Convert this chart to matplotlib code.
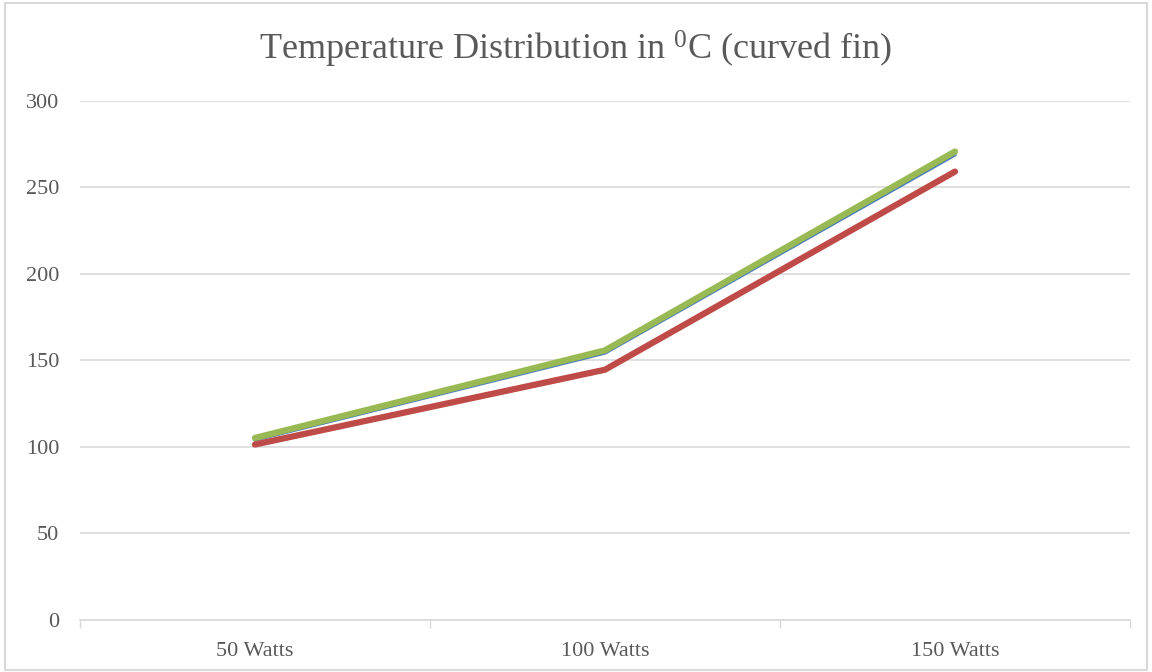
import numpy as np
import matplotlib.pyplot as plt
from matplotlib.patches import Rectangle

categories = ['50 Watts', '100 Watts', '150 Watts']
blue_vals = [104.0, 154.3, 268.8]
red_vals = [101.4, 144.6, 259.1]
green_vals = [105.2, 155.8, 270.7]
yticks = [0, 50, 100, 150, 200, 250, 300]

txt = '#595959'
grid = '#d9d9d9'
plt.rcParams['font.family'] = ['Liberation Serif', 'DejaVu Serif']
plt.rcParams['mathtext.fontset'] = 'custom'
plt.rcParams['mathtext.rm'] = 'Liberation Serif'
plt.rcParams['mathtext.it'] = 'Liberation Serif:italic'

fig = plt.figure(figsize=(11.52, 6.72), dpi=100)
ax = fig.add_axes([0.0694, 0.0774, 0.9115, 0.7726])
x = np.arange(len(categories))

ax.plot(x, blue_vals, color='#4a7ebb', linewidth=2.5, solid_capstyle='round', zorder=3)
ax.plot(x, red_vals, color='#be4b48', linewidth=4.5, solid_capstyle='round', zorder=4)
ax.plot(x, green_vals, color='#98b954', linewidth=4.5, solid_capstyle='round', zorder=5)

ax.set_xlim(-0.5, 2.5)
ax.set_ylim(0, 300)
ax.set_yticks(yticks)
ax.set_xticks(x)
ax.set_xticklabels(categories)
ax.set_xticks([-0.5, 0.5, 1.5, 2.5], minor=True)
ax.tick_params(axis='x', which='major', length=0, pad=16, labelsize=16, labelcolor=txt)
ax.tick_params(axis='x', which='minor', length=6, color=grid, width=1)
ax.tick_params(axis='y', length=0, pad=15, labelsize=16, labelcolor=txt)
ax.grid(axis='y', color=grid, linewidth=1.2)
ax.set_axisbelow(True)
for s in ['top', 'right', 'left']:
    ax.spines[s].set_visible(False)
ax.spines['bottom'].set_color(grid)
ax.spines['bottom'].set_linewidth(1.2)

fig.text(0.5, 0.926, r'Temperature Distribution in $^{\mathrm{0}}$C (curved fin)', ha='center', va='center',
         fontsize=26, color=txt)
fig.patches.append(Rectangle((0.004, 0.003), 0.992, 0.992, transform=fig.transFigure,
                             fill=False, edgecolor=grid, linewidth=1.5))

fig.savefig('out.png', dpi=100)
